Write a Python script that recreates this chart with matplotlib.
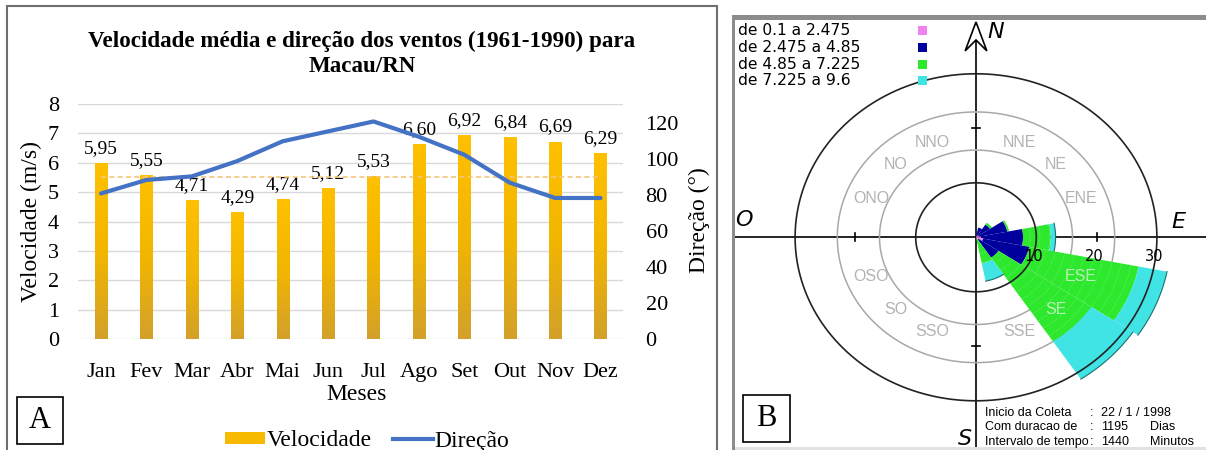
import numpy as np
import matplotlib.pyplot as plt
from matplotlib.patches import Rectangle, Patch
from matplotlib.lines import Line2D
from matplotlib.colors import LinearSegmentedColormap

W, H = 1206, 450

# --- painel A: medias mensais ---
meses = ['Jan', 'Fev', 'Mar', 'Abr', 'Mai', 'Jun', 'Jul', 'Ago', 'Set', 'Out', 'Nov', 'Dez']
velocidade = [5.95, 5.55, 4.71, 4.29, 4.74, 5.12, 5.53, 6.60, 6.92, 6.84, 6.69, 6.29]
direcao = [81, 88.5, 90.5, 99, 110, 115.5, 121, 112.5, 102.5, 87, 78.5, 78.5]
vel_ref = 5.53

# --- painel B: rosa dos ventos (frequencia % por rumo e classe) ---
rumos = ['N', 'NNE', 'NE', 'ENE', 'E', 'ESE', 'SE', 'SSE',
         'S', 'SSO', 'SO', 'OSO', 'O', 'ONO', 'NO', 'NNO']
classes = ['de 0.1 a 2.475', 'de 2.475 a 4.85', 'de 4.85 a 7.225', 'de 7.225 a 9.6']
cores_classes = ['#EE82EE', '#00009C', '#2EE82E', '#40E4E4']
freq_c1 = [0, 0.3, 0.4, 0.5, 0.8, 1.2, 0.5, 0.3, 0, 0, 0, 0, 0, 0, 0, 0]
freq_c2 = [0, 1.5, 2.4, 4.8, 7.0, 7.8, 4.0, 0, 0, 0, 0, 0, 0, 0, 0, 0]
freq_c3 = [0, 0, 0.4, 0.3, 4.6, 18.5, 18.5, 4.6, 0, 0, 0, 0, 0, 0, 0, 0]
freq_c4 = [0, 0, 0, 0, 0.8, 4.8, 8.3, 3.3, 0, 0, 0, 0, 0, 0, 0, 0]
aneis_escala = [10, 20, 30]
aneis_rotulo = [16, 23]
info_rotulos = ['Inicio da Coleta', 'Com duracao de', 'Intervalo de tempo']
info_numeros = ['22 / 1 / 1998', '1195', '1440']
info_unidades = ['', 'Dias', 'Minutos']


def fx(px):
    return px / W


def fy(py):
    return 1 - py / H


serif = 'Liberation Serif'
plt.rcParams['font.family'] = serif

fig = plt.figure(figsize=(W / 100, H / 100), dpi=100)

# ---------------- painel A ----------------
ax = fig.add_axes([fx(78.3), fy(339.3), (623.3 - 78.3) / W, (339.3 - 104) / H])
x = np.arange(len(meses))
barras = ax.bar(x, velocidade, width=0.27, color='#FFC000', zorder=2)
grad = LinearSegmentedColormap.from_list('ouro', ['#D3A12A', '#F2B600', '#FFC000'])
g = np.linspace(0, 1, 100).reshape(-1, 1)
for b in barras:
    ax.imshow(g, extent=(b.get_x(), b.get_x() + b.get_width(), 0, b.get_height()),
              origin='lower', aspect='auto', cmap=grad, zorder=2)
for xi, v in zip(x, velocidade):
    ax.annotate(f'{v:.2f}'.replace('.', ','), (xi, v), xytext=(0, 5),
                textcoords='offset points', ha='center', va='bottom', fontsize=14)
ax.plot([x[0], x[-1]], [vel_ref, vel_ref], ls=(0, (3, 2)), color='#F3C77A', lw=1.2, zorder=3)

ax.set_xlim(-0.5, 11.5)
ax.set_ylim(0, 8)
ax.set_yticks(range(0, 9))
ax.grid(axis='y', color='#D9D9D9', lw=1)
ax.set_axisbelow(True)
for s in ax.spines.values():
    s.set_visible(False)
ax.set_xticks(x)
ax.set_xticklabels(meses)
ax.tick_params(length=0, labelsize=16)
ax.tick_params(axis='x', pad=17)
ax.tick_params(axis='y', pad=14)
ax.set_ylabel('Velocidade (m/s)', fontsize=17)
ax.yaxis.set_label_coords(-0.066, 0.5)
ax.set_xlabel('Meses', fontsize=17)
ax.xaxis.set_label_coords(0.51, -0.19)

ax2 = ax.twinx()
ax2.plot(x, direcao, color='#4472C4', lw=3, solid_capstyle='round', zorder=4)
ax2.set_ylim(0, 130.7)
ax2.set_yticks(range(0, 121, 20))
ax2.tick_params(length=0, labelsize=16, pad=16)
for s in ax2.spines.values():
    s.set_visible(False)
ax2.set_ylabel('Direção (°)', fontsize=17)
ax2.yaxis.set_label_coords(1.12, 0.505)

fig.text(fx(362), fy(41), 'Velocidade média e direção dos ventos (1961-1990) para',
         ha='center', va='center', fontsize=16.6, fontweight='bold')
fig.text(fx(362), fy(67), 'Macau/RN', ha='center', va='center', fontsize=16.6, fontweight='bold')

handles = [Patch(facecolor='#F7BA00', edgecolor='none'),
           Line2D([], [], color='#4472C4', lw=3)]
fig.legend(handles, ['Velocidade', 'Direção'], loc='center', bbox_to_anchor=(fx(367), fy(441)),
           ncol=2, frameon=False, fontsize=17, handlelength=1.7, handleheight=0.35,
           handletextpad=0.05, columnspacing=0.9, borderaxespad=0, borderpad=0)

fig.add_artist(Rectangle((fx(7), fy(460)), fx(717) - fx(7), fy(6) - fy(460),
                         transform=fig.transFigure, fill=False, ec='#6f6f6f', lw=1.5))
fig.add_artist(Rectangle((fx(17), fy(444)), fx(63) - fx(17), fy(397) - fy(444),
                         transform=fig.transFigure, fill=False, ec='black', lw=1.2))
fig.text(fx(40), fy(421), 'A', ha='center', va='center', fontsize=22)

# ---------------- painel B ----------------
cx, cy = 976, 237.3
sx, sy = 6.03, 5.45
bx = fig.add_axes([fx(735), fy(447), (1206 - 735) / W, (447 - 20) / H])
bx.set_xlim((735 - cx) / sx, (1206 - cx) / sx)
bx.set_ylim(-(447 - cy) / sy, (cy - 20) / sy)
bx.axis('off')

# eixos cardeais
bx.plot([bx.get_xlim()[0], bx.get_xlim()[1]], [0, 0], color='black', lw=1.2, zorder=1)
bx.plot([0, 0], [bx.get_ylim()[0], 36], color='black', lw=1.2, zorder=1)
for t in (-20, 20):
    bx.plot([t, t], [-0.7, 0.7], color='black', lw=1.2, zorder=1)
    bx.plot([-0.6, 0.6], [t, t], color='black', lw=1.2, zorder=1)
bx.fill([0, 1.8, 0, -1.8], [39.5, 34.2, 36.2, 34.2], facecolor='white', edgecolor='black', lw=1.2, zorder=5)

ang = np.radians(np.linspace(0, 360, 400))
for r in aneis_rotulo:
    bx.plot(r * np.sin(ang), r * np.cos(ang), color='#A8A8A8', lw=1.1, zorder=1)

# setores empilhados
freqs = np.array([freq_c1, freq_c2, freq_c3, freq_c4])
acum = np.vstack([np.zeros(len(rumos)), np.cumsum(freqs, axis=0)])
for k, rumo in enumerate(rumos):
    centro = 22.5 * k
    th = np.radians(np.linspace(centro - 11.25, centro + 11.25, 30))
    for c in range(4):
        r0, r1 = acum[c, k], acum[c + 1, k]
        if r1 <= r0:
            continue
        xs = np.concatenate([r1 * np.sin(th), r0 * np.sin(th[::-1])])
        ys = np.concatenate([r1 * np.cos(th), r0 * np.cos(th[::-1])])
        bx.fill(xs, ys, color=cores_classes[c], lw=0, zorder=2)
        if c == 2:
            # textura pontilhada da classe verde
            for rr in np.arange(r0 + 1.2, r1, 1.6):
                bx.plot(rr * np.sin(th), rr * np.cos(th), color='white', lw=0.5,
                        ls=(0, (1, 2)), alpha=0.45, zorder=2)
        if c == 3:
            bx.plot(r1 * np.sin(th), r1 * np.cos(th), color='#1E6E6E', lw=0.8, zorder=2)

for r in aneis_escala:
    if r != 20:
        bx.plot(r * np.sin(ang), r * np.cos(ang), color='#222222', lw=1.2, zorder=3)
    bx.text(r - 0.4, -3.6, str(r), ha='center', va='center', fontsize=10.5,
            family='DejaVu Sans', zorder=4)

for k, rumo in enumerate(rumos):
    if k % 4 == 0:
        continue
    a = np.radians(22.5 * k)
    sobre = acum[-1, k] > 18.8
    bx.text(18.8 * np.sin(a), 18.8 * np.cos(a), rumo, ha='center', va='center',
            fontsize=11.5, color='#B8F2B8' if sobre else '#B2B2B2',
            family='Liberation Sans', zorder=4)

card = dict(fontsize=16, fontstyle='italic', family='DejaVu Sans', ha='center', va='center')
bx.text(3.3, 37.6, 'N', **card)
bx.text(33.6, 2.8, 'E', **card)
bx.text(-38.5, 3.2, 'O', **card)
bx.text(-1.8, -37.0, 'S', **card)

# legenda das classes
for i, (lab, cor) in enumerate(zip(classes, cores_classes)):
    yy = 30.7 + 16.7 * i
    fig.text(fx(738), fy(yy), lab, ha='left', va='center', fontsize=11.2, family='DejaVu Sans')
    fig.add_artist(Rectangle((fx(918), fy(yy + 4.5)), 9 / W, 9 / H, transform=fig.transFigure,
                             facecolor=cor, edgecolor='none'))

# informacoes da coleta
info = dict(ha='left', va='center', fontsize=9, family='Liberation Sans')
for i, (lab, num, uni) in enumerate(zip(info_rotulos, info_numeros, info_unidades)):
    yy = 413 + 14.5 * i
    fig.text(fx(985), fy(yy), lab, **info)
    fig.text(fx(1090), fy(yy), ':', **info)
    fig.text(fx(1101), fy(yy), num, **info)
    fig.text(fx(1150), fy(yy), uni, **info)

# moldura da janela
fig.add_artist(Rectangle((fx(733), fy(20)), fx(1206) - fx(733), 5 / H, transform=fig.transFigure,
                         facecolor='#8C8C8C', edgecolor='none'))
fig.add_artist(Rectangle((fx(731.5), fy(450)), 3.5 / W, (450 - 15) / H, transform=fig.transFigure,
                         facecolor='#8C8C8C', edgecolor='none'))
fig.add_artist(Rectangle((fx(735), fy(450)), fx(1206) - fx(735), 3 / H, transform=fig.transFigure,
                         facecolor='#E2E2E2', edgecolor='none'))
fig.add_artist(Rectangle((fx(743), fy(442)), fx(790) - fx(743), fy(395) - fy(442),
                         transform=fig.transFigure, fill=False, ec='black', lw=1.2))
fig.text(fx(766.5), fy(418.5), 'B', ha='center', va='center', fontsize=22)

fig.savefig('out.png', dpi=100)
